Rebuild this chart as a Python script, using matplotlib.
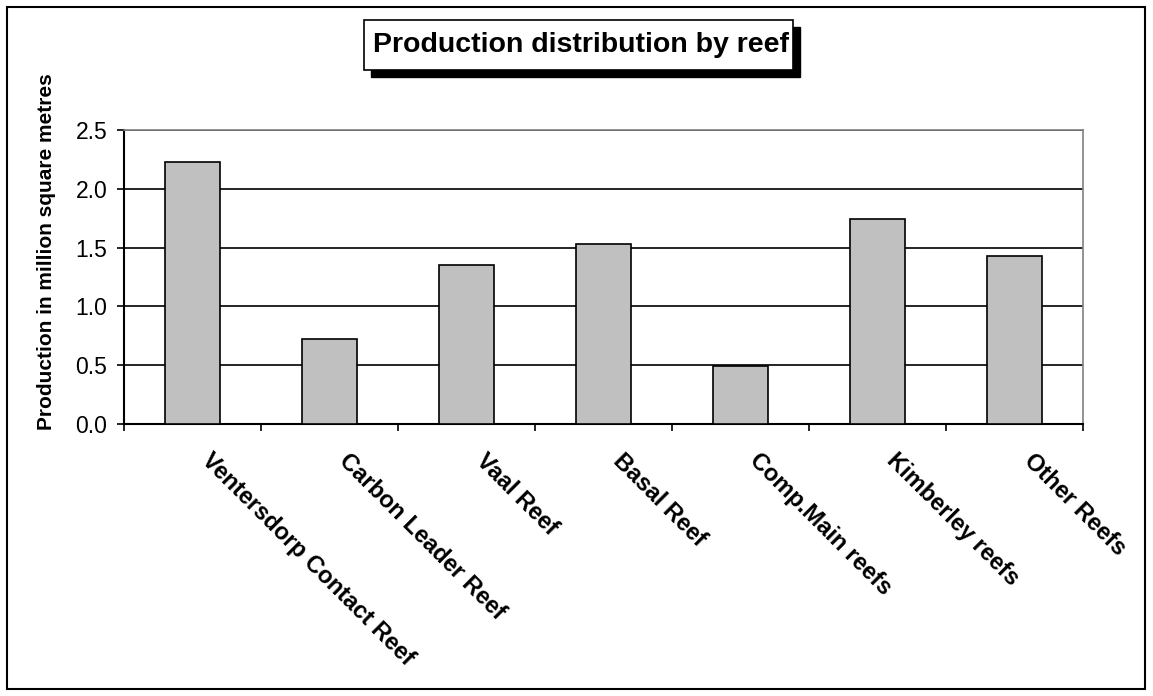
import numpy as np
import matplotlib
matplotlib.use("Agg")
import matplotlib.pyplot as plt
from matplotlib.patches import Rectangle
from matplotlib.transforms import ScaledTranslation

plt.rcParams['font.family'] = ['Liberation Sans', 'DejaVu Sans']

# data
reefs = ['Ventersdorp Contact Reef', 'Carbon Leader Reef', 'Vaal Reef', 'Basal Reef',
         'Comp.Main reefs', 'Kimberley reefs', 'Other Reefs']
production = [2.23, 0.72, 1.35, 1.53, 0.49, 1.74, 1.43]
yticks = [0.0, 0.5, 1.0, 1.5, 2.0, 2.5]

W, H = 1153, 696
fig = plt.figure(figsize=(W / 100, H / 100), dpi=100)

# outer frame of the chart
fig.patches.append(Rectangle((7 / W, 1 - 689 / H), 1138 / W, 682 / H, transform=fig.transFigure,
                             fill=False, edgecolor='black', linewidth=1.5))

ax = fig.add_axes([124 / W, 1 - 424 / H, 959 / W, 294 / H])
x = np.arange(len(reefs))
ax.bar(x, production, width=0.4, color='#c0c0c0', edgecolor='black', linewidth=1.2, zorder=3)

ax.set_xlim(-0.5, len(reefs) - 0.5)
ax.set_ylim(0, 2.5)
ax.set_yticks(yticks)
ax.set_yticklabels([f'{v:.1f}' for v in yticks], fontsize=16.5)
ax.yaxis.grid(True, color='black', linewidth=1.2, zorder=0)

# category ticks sit between the bars
ax.set_xticks(np.arange(len(reefs) + 1) - 0.5)
ax.set_xticklabels([])
ax.tick_params(axis='x', direction='out', length=5, width=1.2)
ax.tick_params(axis='y', direction='out', length=5, width=1.2, pad=7)

# slanted category labels under each bar
offset = ax.transData + ScaledTranslation(21 / 100, -25 / 100, fig.dpi_scale_trans)
for xi, name in zip(x, reefs):
    ax.text(xi, 0, name, transform=offset, rotation=-45, rotation_mode='anchor',
            ha='left', va='top', fontsize=17, fontweight='bold')

for s in ['left', 'bottom']:
    ax.spines[s].set_linewidth(1.5)
for s in ['top', 'right']:
    ax.spines[s].set_color('#808080')
    ax.spines[s].set_linewidth(1.2)

fig.text(47 / W, 1 - 252 / H, 'Production in million square metres', rotation=90,
         ha='center', va='center', fontsize=15, fontweight='bold')

# title box with drop shadow
fig.patches.append(Rectangle((371 / W, 1 - 77 / H), 429 / W, 50 / H, transform=fig.transFigure,
                             facecolor='black', edgecolor='black'))
fig.patches.append(Rectangle((364 / W, 1 - 70 / H), 429 / W, 50 / H, transform=fig.transFigure,
                             facecolor='white', edgecolor='black', linewidth=1.2))
fig.text(581 / W, 1 - 45 / H, 'Production distribution by reef', ha='center', va='center',
         fontsize=20.5, fontweight='bold')

fig.savefig('out.png', dpi=100)
